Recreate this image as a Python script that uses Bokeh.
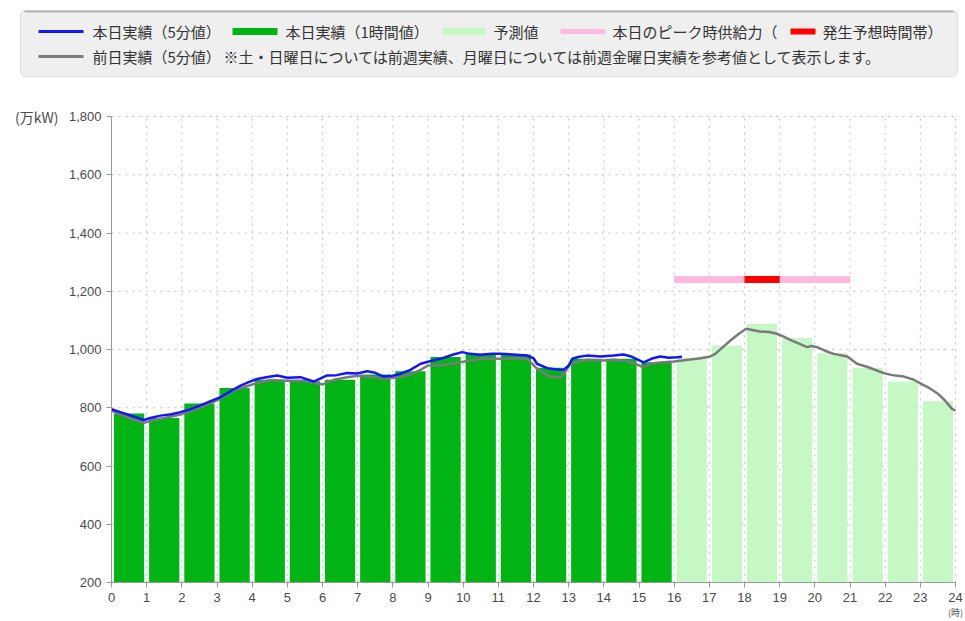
from bokeh.plotting import figure
from bokeh.models import Range1d, BoxAnnotation, Label, NumeralTickFormatter, FixedTicker
from bokeh.embed import file_html
from bokeh.resources import INLINE

# ---------------- data ----------------
actual_hours = list(range(0, 16))
actual_vals = [780, 765, 815, 868, 896, 891, 896, 914, 925, 974, 985, 983, 937, 968, 968, 956]
forecast_hours = list(range(16, 24))
forecast_vals = [971, 1014, 1088, 1040, 987, 937, 890, 822]

today_t = [0.0, 0.25, 0.5, 0.75, 0.92, 1.1, 1.4, 1.7, 1.96, 2.25, 2.53, 2.8, 3.1, 3.4, 3.67, 3.9,
           4.14, 4.4, 4.71, 5.0, 5.37, 5.75, 6.13, 6.4, 6.7, 7.0, 7.27, 7.5, 7.74, 8.0, 8.22, 8.5,
           8.79, 9.0, 9.35, 9.7, 9.97, 10.2, 10.49, 10.8, 11.06, 11.4, 11.82, 12.0, 12.1, 12.39,
           12.6, 12.86, 13.0, 13.1, 13.3, 13.52, 13.9, 14.28, 14.56, 14.8, 15.13, 15.35, 15.6,
           15.85, 16.08, 16.22]
today_v = [795, 785, 775, 765, 758, 765, 773, 778, 785, 795, 808, 822, 836, 858, 876, 888,
           899, 905, 911, 903, 905, 890, 911, 912, 919, 918, 925, 920, 907, 910, 917, 930,
           951, 958, 968, 982, 991, 985, 982, 985, 985, 983, 979, 970, 951, 936,
           932, 930, 945, 968, 975, 979, 976, 979, 983, 975, 956, 968, 976,
           972, 973, 975]

prev_t = [0.0, 0.3, 0.6, 0.92, 1.2, 1.5, 2.0, 2.5, 3.0, 3.5, 4.0, 4.5, 5.0, 5.5, 6.0, 6.3, 6.7,
          7.0, 7.5, 7.8, 8.22, 8.5, 8.79, 9.0, 9.35, 9.92, 10.5, 11.06, 11.5, 11.82, 12.1, 12.45,
          12.8, 13.05, 13.52, 14.0, 14.28, 14.7, 15.13, 15.33, 15.6, 16.0, 16.4, 16.75, 17.0,
          17.17, 17.4, 17.6, 17.85, 18.05, 18.43, 18.7, 18.92, 19.1, 19.3, 19.55, 19.78, 19.9,
          20.07, 20.3, 20.54, 20.92, 21.2, 21.5, 21.96, 22.2, 22.53, 22.8, 23.0, 23.25, 23.48,
          23.7, 23.9, 24.0]
prev_v = [790, 775, 760, 748, 758, 765, 778, 800, 825, 860, 880, 895, 893, 893, 880, 895, 905,
          910, 905, 900, 905, 915, 930, 945, 945, 956, 968, 968, 970, 968, 934, 907,
          905, 951, 965, 962, 965, 960, 939, 951, 955, 959, 965, 970, 975,
          985, 1010, 1031, 1055, 1071, 1062, 1060, 1054, 1045, 1033, 1020, 1008, 1012,
          1008, 995, 985, 976, 951, 940, 919, 912, 907, 897, 884, 868, 850,
          825, 796, 790]

peak_supply = 1240
peak_supply_span = [16, 21]
peak_time_span = [18, 19]

y_ticks = [200, 400, 600, 800, 1000, 1200, 1400, 1600, 1800]
x_ticks = list(range(0, 25))
x_min, x_max = 0, 24
y_min, y_max = 200, 1800

legend_row1 = ["本日実績（5分値）", "本日実績（1時間値）", "予測値", "本日のピーク時供給力（", "発生予想時間帯）"]
legend_row2 = ["前日実績（5分値）",
               "※土・日曜日については前週実績、月曜日については前週金曜日実績を参考値として表示します。"]

C_BLUE = "#1414ff"
C_GREEN = "#00b414"
C_LGREEN = "#c6f8c6"
C_PINK = "#ffb8e0"
C_RED = "#ff0000"
C_GRAY = "#7a7a7a"
C_GRID = "#c0c0c0"
JP = "Noto Sans CJK JP"

# ---------------- layout (pixels) ----------------
W, H = 965, 621
PL, PR, PT, PB = 111, 955, 116, 582   # plot-area edges on the canvas
sx = (PR - PL) / (x_max - x_min)
sy = (PB - PT) / (y_max - y_min)
xr = Range1d(x_min - PL / sx, x_max + (W - PR) / sx)
yr = Range1d(y_min - (H - PB) / sy, y_max + PT / sy)

p = figure(width=W, height=H, x_range=xr, y_range=yr,
           toolbar_location=None, output_backend="svg",
           min_border_left=0, min_border_right=0, min_border_top=0, min_border_bottom=0)
p.background_fill_color = "#ffffff"
p.border_fill_color = "#ffffff"
p.outline_line_color = None
p.grid.visible = False

# dotted grid, limited to the plot area
p.segment(x0=x_ticks, y0=[y_min] * len(x_ticks), x1=x_ticks, y1=[y_max] * len(x_ticks),
          line_color=C_GRID, line_dash="2 5", line_width=1)
p.segment(x0=[x_min] * len(y_ticks), y0=y_ticks, x1=[x_max] * len(y_ticks), y1=y_ticks,
          line_color=C_GRID, line_dash="2 5", line_width=1)

p.xaxis.fixed_location = y_min
p.yaxis.fixed_location = x_min
p.xaxis.bounds = (x_min, x_max)
p.yaxis.bounds = (y_min, y_max)
p.xaxis.ticker = FixedTicker(ticks=x_ticks)
p.yaxis.ticker = FixedTicker(ticks=y_ticks)
p.yaxis.formatter = NumeralTickFormatter(format="0,0")
p.axis.axis_line_color = "#999999"
p.axis.major_tick_line_color = "#999999"
p.axis.major_tick_out = 5
p.axis.major_tick_in = 0
p.axis.minor_tick_line_color = None
p.axis.major_label_text_font = "Liberation Sans"
p.axis.major_label_text_font_size = "13px"
p.axis.major_label_text_color = "#4a4a4a"
p.xaxis.major_label_standoff = 5
p.yaxis.major_label_standoff = 5

bar_w = 0.86
p.vbar(x=[h + 0.5 for h in actual_hours], top=actual_vals, bottom=y_min, width=bar_w,
       fill_color=C_GREEN, line_color=None)
p.vbar(x=[h + 0.5 for h in forecast_hours], top=forecast_vals, bottom=y_min, width=bar_w,
       fill_color=C_LGREEN, line_color=None)

p.line(prev_t, prev_v, line_color=C_GRAY, line_width=2.5)
p.line(today_t, today_v, line_color=C_BLUE, line_width=2.5)

p.segment(x0=[peak_supply_span[0]], y0=[peak_supply], x1=[peak_supply_span[1]], y1=[peak_supply],
          line_color=C_PINK, line_width=7)
p.segment(x0=[peak_time_span[0]], y0=[peak_supply], x1=[peak_time_span[1]], y1=[peak_supply],
          line_color=C_RED, line_width=7)


def cbox(l, r, t, b, fill, line=None, radius=0):
    return BoxAnnotation(left=l, right=r, top=t, bottom=b,
                         left_units="canvas", right_units="canvas",
                         top_units="canvas", bottom_units="canvas",
                         fill_color=fill, fill_alpha=1, line_color=line, line_width=1,
                         border_radius=radius)


def clabel(x, y, text, size="15px", align="left", baseline="middle", color="#333333"):
    return Label(x=x, y=y, x_units="canvas", y_units="canvas", text=text,
                 text_align=align, text_baseline=baseline, text_font=JP,
                 text_font_size=size, text_color=color)


# legend panel
p.add_layout(cbox(20, 957, 10, 76, "#efefef", "#a0a0a0", 5))
p.add_layout(cbox(24, 953, 10, 12, "#b4b4b4"))
r1, r2 = 31, 56
p.add_layout(cbox(38, 83, r1 - 1.5, r1 + 1.5, C_BLUE))
p.add_layout(cbox(232, 277, r1 - 3.5, r1 + 3.5, C_GREEN))
p.add_layout(cbox(442, 485, r1 - 3.5, r1 + 3.5, C_LGREEN))
p.add_layout(cbox(560, 605, r1 - 2.5, r1 + 2.5, C_PINK))
p.add_layout(cbox(790, 815, r1 - 3, r1 + 3, C_RED))
p.add_layout(cbox(38, 83, r2 - 1.5, r2 + 1.5, C_GRAY))
for x, t in zip([92, 285, 493, 612, 822], legend_row1):
    p.add_layout(clabel(x, r1, t))
for x, t in zip([92, 223], legend_row2):
    p.add_layout(clabel(x, r2, t))

# axis units
p.add_layout(clabel(58, 116, "(万kW)", size="14px", align="right", color="#4a4a4a"))
p.add_layout(clabel(955, 605, "(時)", size="9px", align="center", baseline="top", color="#4a4a4a"))

open("out.html", "w").write(file_html(p, INLINE))
